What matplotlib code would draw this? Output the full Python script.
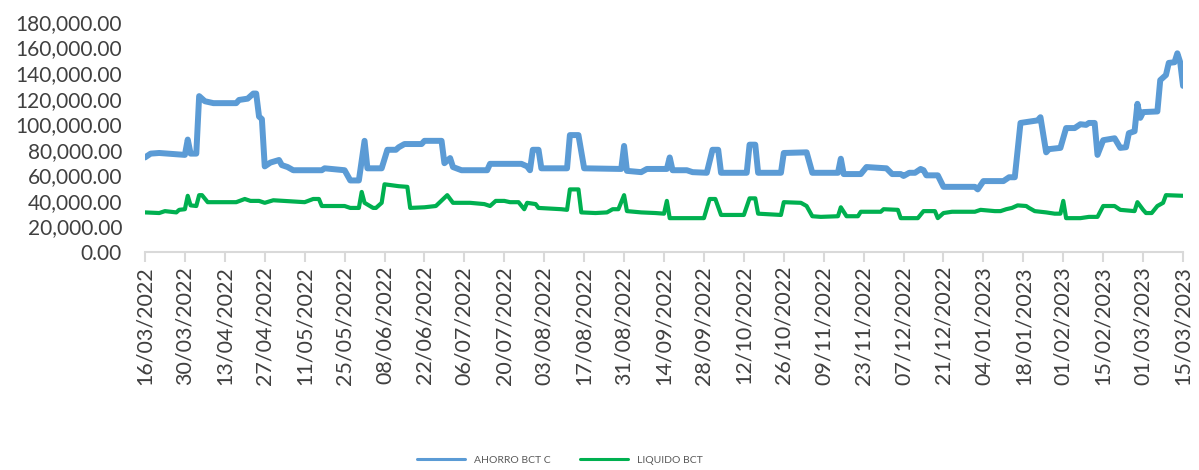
import matplotlib
matplotlib.use("Agg")
import matplotlib.pyplot as plt
import matplotlib.dates as mdates
import matplotlib.ticker as mticker
import pandas as pd

# ======================================
# Data (day offsets from start date, values in thousands)
# ======================================
start_date = "2022-03-16"
end_date = "2023-03-15"

ahorro_day = [0, 2, 5, 14, 15, 16, 18, 19, 21, 24, 32, 33, 36, 38, 39, 40, 41, 42, 44, 47,
              48, 50, 52, 62, 63, 70, 72, 75, 77, 78, 83, 85, 88, 89, 91, 97, 98, 104, 105, 107,
              108, 111, 120, 121, 132, 134, 135, 136, 138, 139, 148, 149, 152, 154, 167, 168, 169, 174, 176, 183,
              184, 185, 190, 192, 197, 199, 201, 202, 211, 212, 214, 215, 223, 224, 232, 234, 243, 244, 245, 251,
              253, 260, 262, 265, 266, 268, 270, 272, 273, 274, 278, 280, 291, 292, 294, 301, 303, 305, 307, 313,
              314, 316, 317, 321, 323, 326, 328, 330, 331, 333, 334, 336, 340, 342, 344, 345, 347, 348, 349, 350,
              355, 356, 358, 359, 361, 362, 363, 364]
ahorro_val = [74, 77, 77.5, 76, 88, 77, 77, 122, 118, 116.5, 116.5, 119, 120, 124, 124, 106, 104, 67, 70, 72,
              68, 66.5, 64, 64, 65.5, 64, 56, 56, 87, 65.5, 65.5, 80, 80, 82, 84.5, 84.5, 87, 87, 69.5, 73.5,
              66.5, 64, 64, 69, 69, 67, 64, 80, 80, 65.5, 65.5, 91.5, 91.5, 65.5, 65, 83, 63.5, 62.5, 65, 65,
              74, 64, 64, 62.5, 62, 80, 80, 62, 62, 84, 84, 62, 62, 77.5, 78, 62, 62, 73, 61, 61,
              66.5, 65.5, 61, 61, 59.5, 62, 62, 65, 64, 60, 60, 51, 51, 49, 55.5, 55.5, 58.5, 58.5, 101, 103,
              105.5, 78, 80.5, 81.5, 97, 97, 100, 99.5, 101, 101, 76, 87.5, 89, 81.5, 82, 93, 94.5, 116, 105, 109.5,
              110, 134.5, 138.5, 148, 148.5, 155.5, 148.5, 130]

liquido_day = [0, 5, 7, 11, 12, 14, 15, 16, 18, 19, 20, 22, 32, 35, 37, 40, 42, 45, 56, 59,
               61, 62, 70, 72, 75, 76, 77, 80, 81, 83, 84, 89, 92, 93, 98, 102, 106, 108, 114, 119,
               121, 123, 126, 128, 131, 133, 134, 137, 138, 146, 148, 149, 152, 153, 158, 162, 164, 166, 168, 169,
               174, 179, 182, 183, 184, 196, 198, 200, 202, 210, 212, 214, 215, 223, 224, 230, 232, 234, 237, 243,
               244, 246, 250, 251, 258, 259, 264, 265, 271, 273, 277, 278, 280, 283, 291, 293, 298, 300, 302, 304,
               306, 309, 310, 312, 316, 319, 321, 322, 323, 328, 331, 334, 336, 340, 342, 347, 348, 350, 351, 353,
               355, 357, 358, 364]
liquido_val = [31, 30.5, 32, 31, 33, 33.5, 44, 36.5, 36, 44.5, 44.5, 39, 39, 41.5, 40, 40, 38.5, 40.5, 39, 41.5,
               41.5, 36, 36, 34.5, 34.5, 47, 38.5, 34.5, 34.5, 38.5, 53, 51.5, 51, 34.5, 35, 36, 44.5, 38.5, 38.5, 37.5,
               36, 40, 40, 39, 39, 33.5, 38.5, 37.5, 34.5, 33.5, 33, 49, 49, 31, 30.5, 31, 33.5, 33.5, 44.5, 32,
               31, 30.5, 30, 40, 26.5, 26.5, 41.5, 41.5, 29, 29, 42, 42, 30, 29, 39, 38.5, 36, 28, 27.5, 28,
               35, 28, 28, 31.5, 31.5, 33.5, 33, 26.5, 26.5, 32, 32, 26.5, 30.5, 31.5, 31.5, 33, 32, 32, 33.5, 34.5,
               36.5, 36, 34.5, 32, 31, 30, 30, 40, 26.5, 26.5, 27.5, 27.5, 36, 36, 33, 32, 39, 33, 30.5, 30.5,
               36, 38.5, 44.5, 44]

labels = ["AHORRO BCT C", "LIQUIDO BCT"]
colors = ["#5B9BD5", "#00B050"]

# ======================================
# Plot
# ======================================
plt.rcParams['font.family'] = ['Lato', 'DejaVu Sans']

base = pd.Timestamp(start_date)
ahorro_dates = base + pd.to_timedelta(ahorro_day, unit="D")
liquido_dates = base + pd.to_timedelta(liquido_day, unit="D")

fig = plt.figure(figsize=(11.99, 4.70), dpi=100)
ax = fig.add_axes([0.1209, 0.4638, 0.8658, 0.4894])

ax.plot(ahorro_dates, [v * 1000 for v in ahorro_val], color=colors[0], lw=4.3,
        solid_joinstyle="round", solid_capstyle="round", label=labels[0])
ax.plot(liquido_dates, [v * 1000 for v in liquido_val], color=colors[1], lw=3.0,
        solid_joinstyle="round", solid_capstyle="round", label=labels[1])

ax.set_ylim(0, 180000)
ax.set_xlim(pd.Timestamp(start_date), pd.Timestamp(end_date))
ax.yaxis.set_major_locator(mticker.MultipleLocator(20000))
ax.yaxis.set_major_formatter(mticker.FuncFormatter(lambda v, p: f"{v:,.2f}"))

ticks = pd.date_range(start_date, end_date, freq="14D")
ax.set_xticks(ticks)
ax.xaxis.set_major_formatter(mdates.DateFormatter("%d/%m/%Y"))
plt.setp(ax.get_xticklabels(), rotation=90)

for side in ["top", "right", "left"]:
    ax.spines[side].set_visible(False)
ax.spines["bottom"].set_color("#D9D9D9")
ax.spines["bottom"].set_linewidth(1.5)
ax.tick_params(axis="y", length=0, labelsize=15, labelcolor="#404040", pad=16.5)
ax.tick_params(axis="x", length=7, width=1.5, color="#D9D9D9", labelsize=15.5, labelcolor="#404040", pad=3)

leg = fig.legend(loc="center", bbox_to_anchor=(0.467, 0.021), ncol=2, frameon=False,
                 fontsize=7.5, handlelength=4.6, handletextpad=0.85, columnspacing=2.8,
                 labelcolor="#595959")
for line in leg.get_lines():
    line.set_linewidth(2.2)
    line.set_solid_capstyle("round")

fig.savefig("out.png", dpi=100)
